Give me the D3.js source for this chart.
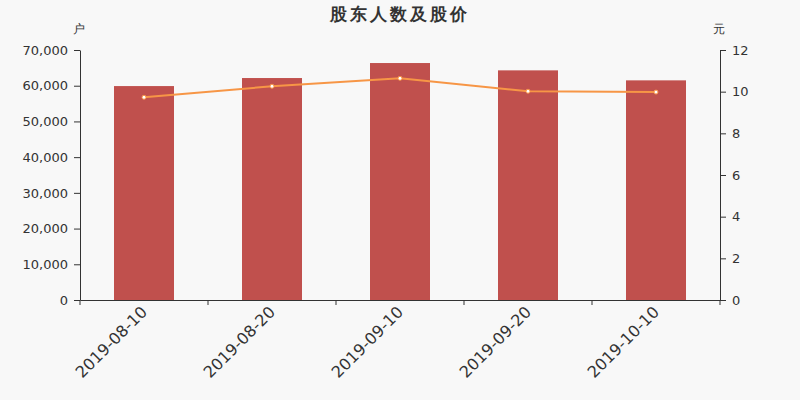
<!DOCTYPE html>
<html><head><meta charset="utf-8">
<script src="https://cdn.jsdelivr.net/npm/d3@7/dist/d3.min.js"></script>
<style>html,body{margin:0;padding:0;background:#f8f8f8;}</style>
</head><body>
<svg id="c" width="800" height="400"></svg>
<script>
const categories = ["2019-08-10","2019-08-20","2019-09-10","2019-09-20","2019-10-10"];
const holders = [59900, 62150, 66350, 64300, 61500];
const prices = [9.73, 10.26, 10.64, 10.02, 9.98];
const leftTicks = [0,10000,20000,30000,40000,50000,60000,70000];
const rightTicks = [0,2,4,6,8,10,12];

const svg = d3.select("#c");
const font = "'DejaVu Sans', sans-serif";
const m = {l:80, r:720, t:50, b:300};
svg.append("rect").attr("width",800).attr("height",400).attr("fill","#f8f8f8");

const x = d3.scaleBand().domain(categories).range([m.l, m.r]).paddingInner(0).paddingOuter(0);
const yL = d3.scaleLinear().domain([0,70000]).range([m.b, m.t]);
const yR = d3.scaleLinear().domain([0,12]).range([m.b, m.t]);

svg.append("text").attr("x",400).attr("y",20).attr("text-anchor","middle")
  .attr("font-family",font).attr("font-size",17).attr("font-weight","bold").attr("fill","#333")
  .attr("letter-spacing",3).text("股东人数及股价");
svg.append("text").attr("x",79).attr("y",33).attr("text-anchor","middle")
  .attr("font-family",font).attr("font-size",12).attr("fill","#333").text("户");
svg.append("text").attr("x",719).attr("y",33).attr("text-anchor","middle")
  .attr("font-family",font).attr("font-size",12).attr("fill","#333").text("元");

const bw = 60;
svg.selectAll("rect.bar").data(holders).enter().append("rect").attr("class","bar")
  .attr("x",(d,i)=>x(categories[i]) + x.bandwidth()/2 - bw/2)
  .attr("width",bw)
  .attr("y",d=>yL(d)).attr("height",d=>m.b-yL(d))
  .attr("fill","#c0504d");

function styleAxis(g){
  g.selectAll("path,line").attr("stroke","#333");
  g.selectAll("text").attr("font-family",font).attr("font-size",13).attr("fill","#333");
}

const gL = svg.append("g").attr("transform",`translate(${m.l},0)`)
  .call(d3.axisLeft(yL).tickValues(leftTicks).tickFormat(d3.format(",")).tickSizeOuter(0).tickPadding(6));
styleAxis(gL);
const gR = svg.append("g").attr("transform",`translate(${m.r},0)`)
  .call(d3.axisRight(yR).tickValues(rightTicks).tickSizeOuter(0).tickPadding(6));
styleAxis(gR);

const gX = svg.append("g").attr("transform",`translate(0,${m.b})`)
  .call(d3.axisBottom(x).tickSize(0).tickSizeOuter(0));
gX.select("path").attr("stroke","#333");
gX.selectAll("text").attr("font-family",font).attr("font-size",16).attr("fill","#333")
  .attr("text-anchor","end").attr("dy",0)
  .attr("transform","translate(2,11) rotate(-45)");
// boundary ticks
const bounds = categories.map(c=>x(c)).concat([m.r]);
gX.selectAll("line.bt").data(bounds).enter().append("line").attr("class","bt")
  .attr("x1",d=>d).attr("x2",d=>d).attr("y1",0).attr("y2",5).attr("stroke","#333");

const line = d3.line().x((d,i)=>x(categories[i])+x.bandwidth()/2).y(d=>yR(d));
svg.append("path").datum(prices).attr("d",line).attr("fill","none")
  .attr("stroke","#f79646").attr("stroke-width",2);
svg.selectAll("circle.pt").data(prices).enter().append("circle").attr("class","pt")
  .attr("cx",(d,i)=>x(categories[i])+x.bandwidth()/2).attr("cy",d=>yR(d))
  .attr("r",2).attr("fill","#fff").attr("stroke","#f79646").attr("stroke-width",1);
</script>
</body></html>
